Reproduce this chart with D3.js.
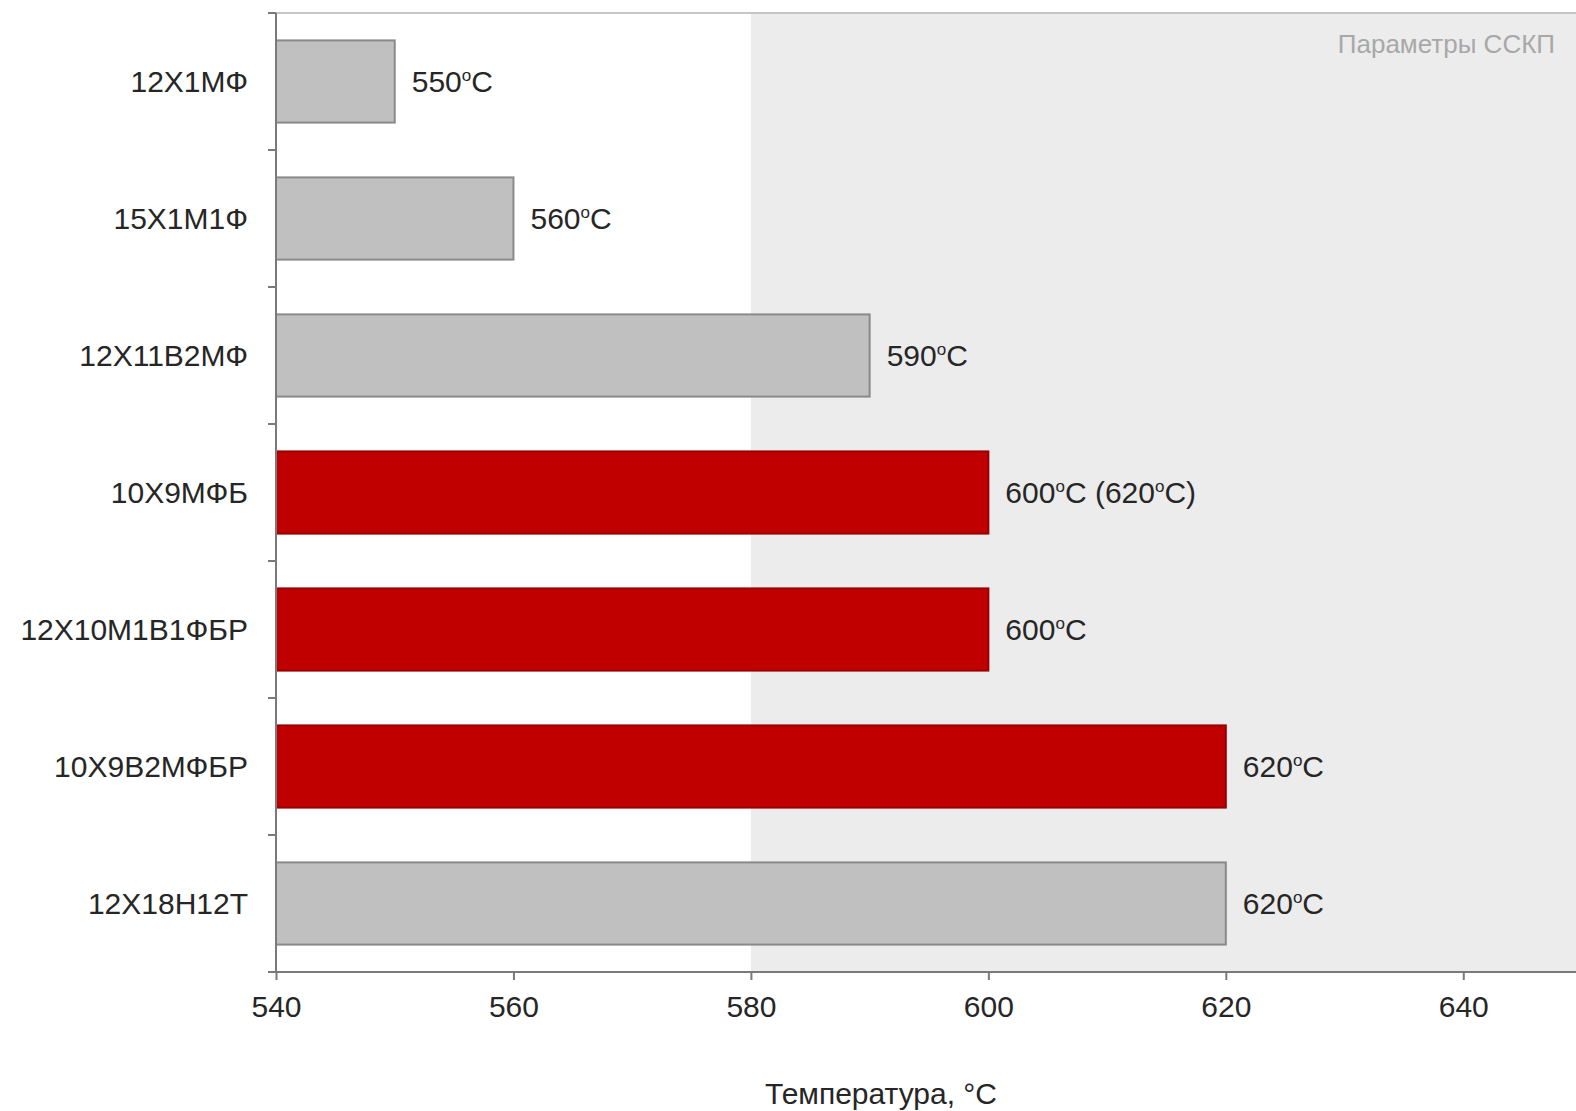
<!DOCTYPE html>
<meta charset="utf-8">
<style>
body { margin: 0; background: #fff; }
svg text { font-family: "Liberation Sans", Arial, sans-serif; }
.cat text { fill: #262626; font-size: 30px; }
.vals text { fill: #262626; font-size: 30px; }
</style>
<svg width="1576" height="1111"></svg>
<script src="https://cdn.jsdelivr.net/npm/d3@7/dist/d3.min.js"></script>
<script>

// steel grades, top to bottom
var grades = ["12Х1МФ", "15Х1М1Ф", "12Х11В2МФ", "10Х9МФБ", "12Х10М1В1ФБР", "10Х9В2МФБР", "12Х18Н12Т"];
var temps = [550, 560, 590, 600, 600, 620, 620];
var altTemps = [null, null, null, 620, null, null, null];
var highlighted = [false, false, false, true, true, true, false];
var xTicks = [540, 560, 580, 600, 620, 640];
var scspStart = 580; // ССКП zone

var svg = d3.select("svg"),
    width = +svg.attr("width"),
    height = +svg.attr("height");

var plotTop = 13, plotBottom = 972;

var x = d3.scaleLinear().domain([540, 650]).range([276, 1582]);
var y = d3.scaleBand().domain(grades).range([plotTop, plotBottom]).paddingInner(0.4).paddingOuter(0.2);

// shaded zone
svg.append("rect")
    .attr("x", x(scspStart))
    .attr("y", plotTop)
    .attr("width", width - x(scspStart))
    .attr("height", plotBottom - plotTop)
    .attr("fill", "#ececec");

svg.append("text")
    .attr("x", 1555)
    .attr("y", 53)
    .attr("text-anchor", "end")
    .attr("fill", "#a8a8a8")
    .style("font-size", "26px")
    .text("Параметры ССКП");

// top frame line
svg.append("line")
    .attr("x1", x(540)).attr("x2", width)
    .attr("y1", plotTop).attr("y2", plotTop)
    .attr("stroke", "#c6c6c6")
    .attr("stroke-width", 2);

// bars
svg.append("g").selectAll("rect")
    .data(grades)
    .enter().append("rect")
    .attr("x", x(540))
    .attr("y", function(d) { return y(d); })
    .attr("width", function(d, i) { return x(temps[i]) - x(540); })
    .attr("height", y.bandwidth())
    .attr("fill", function(d, i) { return highlighted[i] ? "#c00000" : "#c0c0c0"; })
    .attr("stroke", function(d, i) { return highlighted[i] ? "#9a0000" : "#8a8a8a"; })
    .attr("stroke-width", 2);

// value labels
var vals = svg.append("g").attr("class", "vals").selectAll("text")
    .data(grades)
    .enter().append("text")
    .attr("x", function(d, i) { return x(temps[i]) + 17; })
    .attr("y", function(d) { return y(d) + y.bandwidth() / 2; })
    .attr("dy", "0.35em");

function degLabel(sel, v) {
  sel.append("tspan").text(v);
  sel.append("tspan").attr("dy", -11).style("font-size", "17px").text("o");
  sel.append("tspan").attr("dy", 11).text("C");
}

vals.each(function(d, i) {
  var t = d3.select(this);
  degLabel(t, temps[i]);
  if (altTemps[i] != null) {
    t.append("tspan").text(" (");
    degLabel(t, altTemps[i]);
    t.append("tspan").text(")");
  }
});

// y axis
var yBoundaries = d3.range(grades.length + 1).map(function(i) { return plotTop + i * y.step(); });
svg.append("line")
    .attr("x1", x(540)).attr("x2", x(540))
    .attr("y1", plotTop).attr("y2", plotBottom)
    .attr("stroke", "#7a7a7a").attr("stroke-width", 2);
svg.append("g").selectAll("line")
    .data(yBoundaries)
    .enter().append("line")
    .attr("x1", x(540) - 8).attr("x2", x(540))
    .attr("y1", function(d) { return d; }).attr("y2", function(d) { return d; })
    .attr("stroke", "#7a7a7a").attr("stroke-width", 2);

svg.append("g").attr("class", "cat").selectAll("text")
    .data(grades)
    .enter().append("text")
    .attr("x", 248)
    .attr("y", function(d) { return y(d) + y.bandwidth() / 2; })
    .attr("dy", "0.35em")
    .attr("text-anchor", "end")
    .text(function(d) { return d; });

// x axis
var xAxis = svg.append("g")
    .attr("transform", "translate(0," + plotBottom + ")")
    .call(d3.axisBottom(x).tickValues(xTicks).tickSize(8).tickPadding(16).tickSizeOuter(0));
xAxis.select(".domain").attr("stroke", "#7a7a7a").attr("stroke-width", 2).attr("d", "M" + x(540) + ",0H" + width);
xAxis.selectAll(".tick line").attr("stroke", "#7a7a7a").attr("stroke-width", 2);
xAxis.selectAll(".tick text").attr("fill", "#262626").style("font-size", "30px").style("font-family", "Liberation Sans, Arial, sans-serif");

svg.append("text")
    .attr("x", 881)
    .attr("y", 1104)
    .attr("text-anchor", "middle")
    .attr("fill", "#262626")
    .style("font-size", "30px")
    .text("Температура, °C");

</script>
